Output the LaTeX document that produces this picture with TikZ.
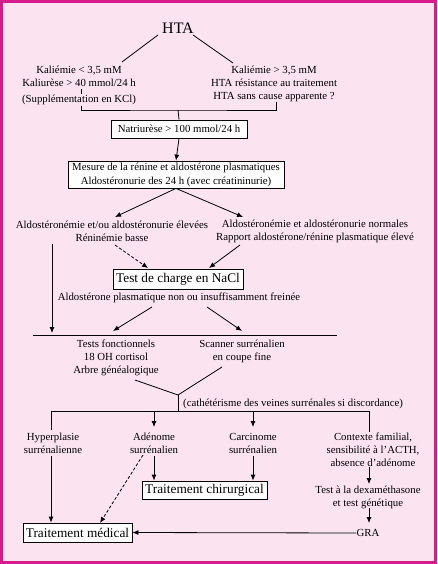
\documentclass[tikz,border=0pt]{standalone}
\usepackage{fontspec}
\setmainfont{Liberation Serif}
\usetikzlibrary{arrows.meta}
\definecolor{bgpink}{HTML}{FBE3EF}
\definecolor{framemag}{HTML}{D81B8A}
\begin{document}
\begin{tikzpicture}[x=1pt,y=-1pt,
  txt/.style={font=\fontsize{10.8}{13}\selectfont, align=center, inner sep=0pt},
  boxs/.style={draw, line width=0.8pt, fill=white, font=\fontsize{10.8}{14}\selectfont, align=center, inner sep=0pt},
  boxl/.style={draw, line width=0.8pt, fill=white, font=\fontsize{13.3}{15}\selectfont, align=center, inner sep=0pt},
  ln/.style={line width=0.8pt},
  arr/.style={ln, -{Latex[length=6pt,width=5pt]}},
  darr/.style={arr, dashed, dash pattern=on 3pt off 2pt}]
\useasboundingbox (0,0) rectangle (437,564);
\draw[line width=3pt, draw=framemag, fill=bgpink] (1.5,1.5) rectangle (435.5,562.5);

% texts
\node[txt, font=\fontsize{16}{18}\selectfont] (hta) at (178,28) {HTA};
\node[txt] (kl) at (79,76.5) {Kaliémie < 3,5 mM\\Kaliurèse > 40 mmol/24 h};
\node[txt] (kcl) at (79,100) {(Supplémentation en KCl)};
\node[txt] (kr) at (274,83.5) {Kaliémie > 3,5 mM\\HTA résistance au traitement\\HTA sans cause apparente ?};
\node[boxs, minimum width=136pt, minimum height=18pt] (natri) at (179,129) {Natriurèse > 100 mmol/24 h};
\node[boxs, minimum width=216pt, minimum height=27pt] (mes) at (176,174.5) {Mesure de la rénine et aldostérone plasmatiques\\Aldostéronurie des 24 h (avec créatininurie)};
\node[txt] (aldl) at (112,231) {Aldostéronémie et/ou aldostéronurie élevées\\Réninémie basse};
\node[txt] (aldr) at (315,231) {Aldostéronémie et aldostéronurie normales\\Rapport aldostérone/rénine plasmatique élevé};
\node[boxl, minimum width=130pt, minimum height=20pt] (nacl) at (178,279) {Test de charge en NaCl};
\node[txt] (frein) at (179,298) {Aldostérone plasmatique non ou insuffisamment freinée};
\node[txt] (tests) at (116,357.5) {Tests fonctionnels\\18 OH cortisol\\Arbre généalogique};
\node[txt] (scan) at (242,351) {Scanner surrénalien\\en coupe fine};
\node[txt, anchor=west] (cath) at (183,404) {(cathétérisme des veines surrénales si discordance)};
\node[txt] (hyp) at (53,443.5) {Hyperplasie\\surrénalienne};
\node[txt] (aden) at (154,443.5) {Adénome\\surrénalien};
\node[txt] (carc) at (253,443.5) {Carcinome\\surrénalien};
\node[txt] (ctx) at (373,449.5) {Contexte familial,\\sensibilité à l'ACTH,\\absence d'adénome};
\node[boxl, minimum width=125pt, minimum height=18pt] (chir) at (204.5,490) {Traitement chirurgical};
\node[txt] (dexa) at (368,497) {Test à la dexaméthasone\\et test génétique};
\node[txt] (gra) at (368,533) {GRA};
\node[boxl, minimum width=109pt, minimum height=19pt] (med) at (77.5,532.5) {Traitement médical};

% coordinates
\coordinate (j1) at (178,110);
\coordinate (j2) at (178,395);
\coordinate (j3) at (178,411);

% connectors
\draw[ln] (158,35) -- (122,62);
\draw[ln] (193,35) -- (233,63);
\draw[ln] (81,89) -- (81,94);
\draw[ln] (81,106) |- (j1) -| (276,102);
\draw[ln] (j1) -- (natri.north);
\draw[arr] (natri.south) -- (mes.north);
\draw[arr] (mes.south) -- (115,217);
\draw[arr] (mes.south) -- (243,217);
\draw[darr] (115,245) -- (148,268);
\draw[arr] (240,245) -- (209,268);
\draw[arr] (152,307) -- (113,331);
\draw[arr] (207,307) -- (242,331);
\draw[arr] (52,244) -- (52,333);
\draw[ln] (33,335) -- (337,335);
\draw[ln] (135,380) -- (j2) -- (222,367);
\draw[ln] (j2) -- (j3);
\draw[ln] (51,430) -- (51,411) -- (369,411) -- (369,432);
\draw[arr] (51,456) -- (med.north -| 51,0);
\draw[arr] (154,411) -- (154,427);
\draw[arr] (253,411) -- (253,427);
\draw[arr] (154,456) -- (chir.north -| 154,0);
\draw[arr] (253,456) -- (chir.north -| 253,0);
\draw[arr] (369,467) -- (369,484);
\draw[arr] (369,508) -- (369,523);
\draw[arr] (gra.west) -- (med.east);
\draw[darr] (143,455) -- (100,523);
\end{tikzpicture}
\end{document}
